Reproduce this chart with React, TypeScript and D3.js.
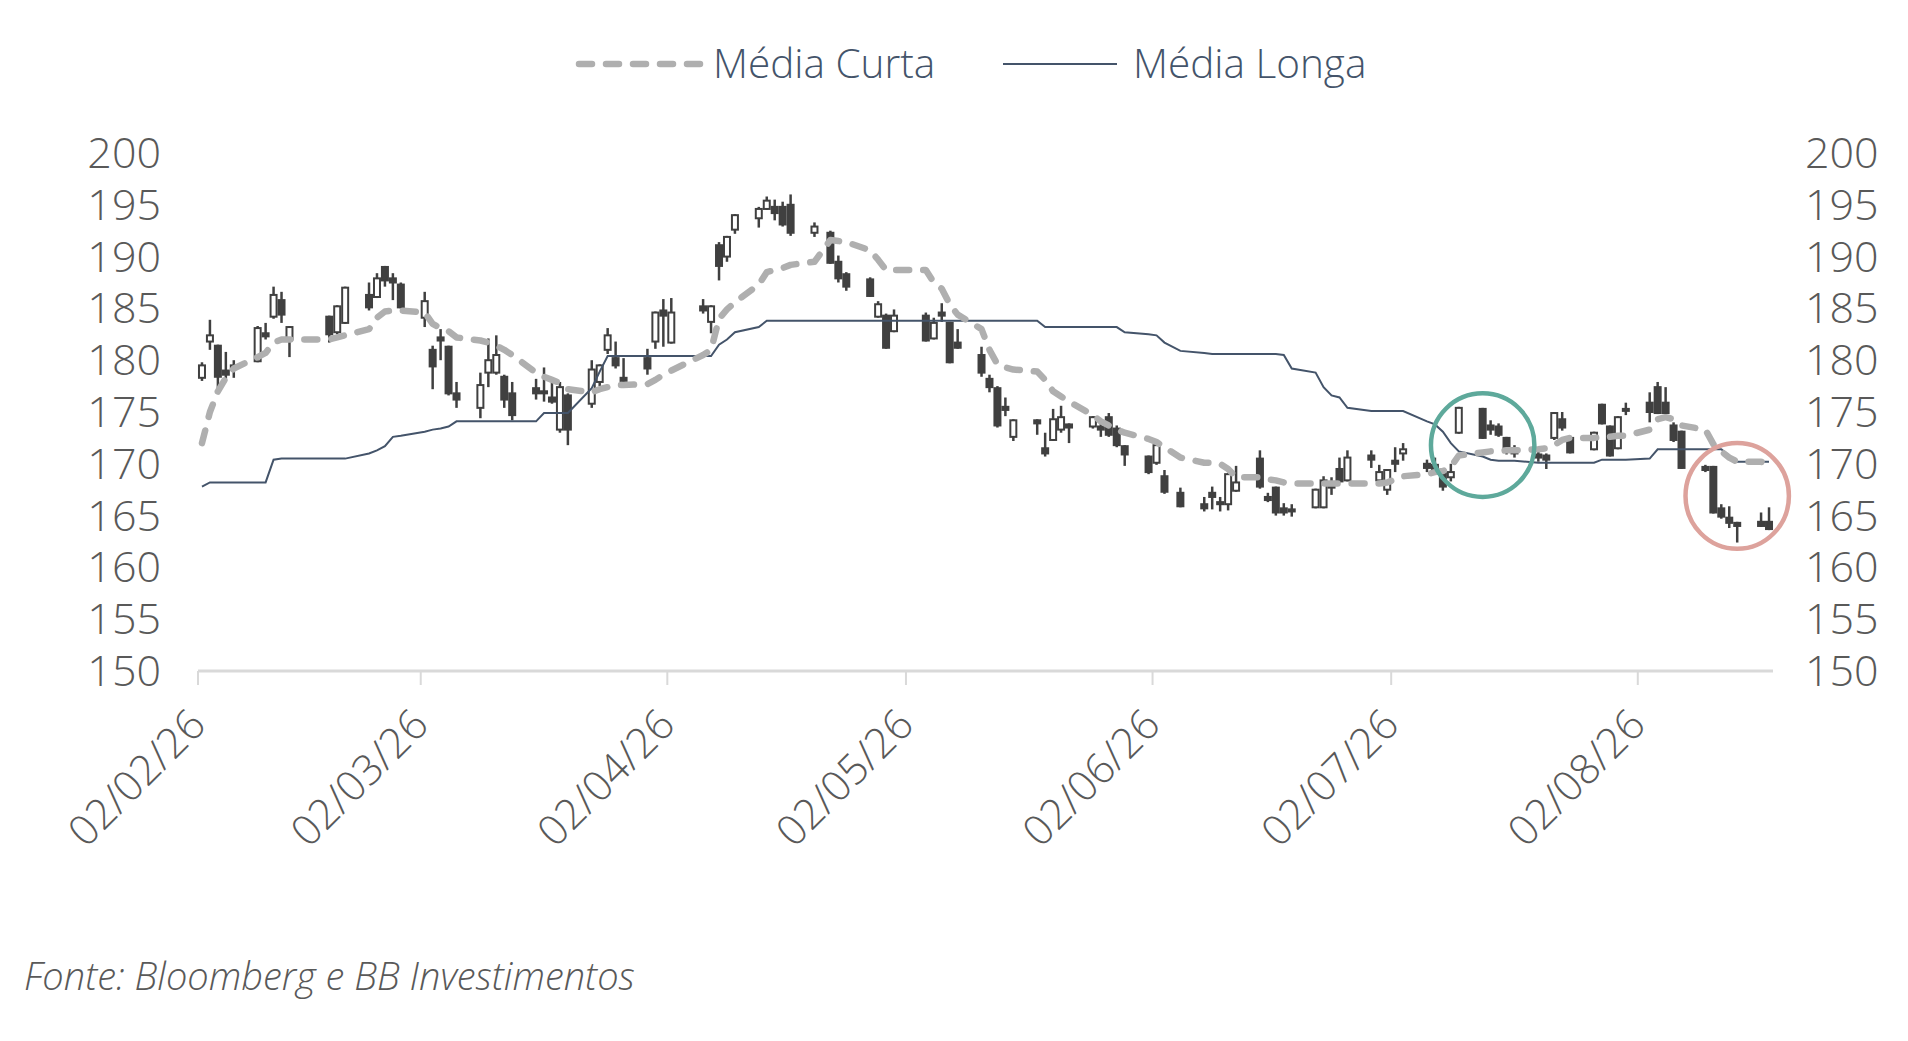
import * as d3 from "d3";

// Pregões (B3) de fev a ago/2026
const dates = [
  "2026-02-02", "2026-02-03", "2026-02-04", "2026-02-05", "2026-02-06",
  "2026-02-09", "2026-02-10", "2026-02-11", "2026-02-12", "2026-02-13",
  "2026-02-18", "2026-02-19", "2026-02-20",
  "2026-02-23", "2026-02-24", "2026-02-25", "2026-02-26", "2026-02-27",
  "2026-03-02", "2026-03-03", "2026-03-04", "2026-03-05", "2026-03-06",
  "2026-03-09", "2026-03-10", "2026-03-11", "2026-03-12", "2026-03-13",
  "2026-03-16", "2026-03-17", "2026-03-18", "2026-03-19", "2026-03-20",
  "2026-03-23", "2026-03-24", "2026-03-25", "2026-03-26", "2026-03-27",
  "2026-03-30", "2026-03-31", "2026-04-01", "2026-04-02",
  "2026-04-06", "2026-04-07", "2026-04-08", "2026-04-09", "2026-04-10",
  "2026-04-13", "2026-04-14", "2026-04-15", "2026-04-16", "2026-04-17",
  "2026-04-20", "2026-04-22", "2026-04-23", "2026-04-24",
  "2026-04-27", "2026-04-28", "2026-04-29", "2026-04-30",
  "2026-05-04", "2026-05-05", "2026-05-06", "2026-05-07", "2026-05-08",
  "2026-05-11", "2026-05-12", "2026-05-13", "2026-05-14", "2026-05-15",
  "2026-05-18", "2026-05-19", "2026-05-20", "2026-05-21", "2026-05-22",
  "2026-05-25", "2026-05-26", "2026-05-27", "2026-05-28", "2026-05-29",
  "2026-06-01", "2026-06-02", "2026-06-03", "2026-06-05",
  "2026-06-08", "2026-06-09", "2026-06-10", "2026-06-11", "2026-06-12",
  "2026-06-15", "2026-06-16", "2026-06-17", "2026-06-18", "2026-06-19",
  "2026-06-22", "2026-06-23", "2026-06-24", "2026-06-25", "2026-06-26",
  "2026-06-29", "2026-06-30", "2026-07-01", "2026-07-02", "2026-07-03",
  "2026-07-06", "2026-07-07", "2026-07-08", "2026-07-09", "2026-07-10",
  "2026-07-13", "2026-07-14", "2026-07-15", "2026-07-16", "2026-07-17",
  "2026-07-20", "2026-07-21", "2026-07-22", "2026-07-23", "2026-07-24",
  "2026-07-27", "2026-07-28", "2026-07-29", "2026-07-30", "2026-07-31",
  "2026-08-03", "2026-08-04", "2026-08-05", "2026-08-06", "2026-08-07",
  "2026-08-10", "2026-08-11", "2026-08-12", "2026-08-13", "2026-08-14",
  "2026-08-17", "2026-08-18",
];

const open = [
  178.3, 181.8, 181.4, 179.0, 179.2,
  179.9, 182.6, 184.2, 185.8, 182.0,
  184.2, 182.7, 183.6,
  186.3, 186.1, 189.0, 187.9, 187.3,
  184.1, 181.0, 182.2, 181.3, 176.8,
  175.4, 178.8, 178.8, 178.4, 176.8,
  177.3, 177.0, 176.4, 173.3, 176.6,
  175.8, 177.9, 181.0, 180.2, 178.3,
  180.2, 181.8, 184.8, 181.7,
  185.2, 183.7, 191.1, 190.0, 192.6,
  193.7, 194.6, 194.8, 194.8, 195.0,
  192.3, 192.3, 189.5, 188.3,
  187.8, 184.2, 184.3, 182.8,
  184.3, 182.1, 184.6, 183.6, 181.7,
  180.5, 178.2, 177.3, 175.5, 172.6,
  174.2, 171.5, 172.3, 173.3, 173.8,
  173.6, 173.6, 174.5, 173.4, 171.7,
  170.7, 170.1, 168.8, 167.2,
  166.1, 167.2, 166.3, 166.1, 167.4,
  170.5, 166.8, 167.7, 165.7, 165.6,
  165.8, 165.8, 168.0, 169.5, 168.4,
  170.8, 168.4, 167.5, 170.3, 171.0,
  170.0, 169.9, 169.2, 168.7, 173.0,
  175.3, 173.7, 173.6, 172.5, 171.3,
  170.9, 170.8, 172.5, 174.3, 172.5,
  171.4, 175.7, 173.6, 171.5, 175.2,
  175.9, 177.4, 175.9, 173.7, 173.1,
  169.7, 169.7, 165.7, 164.8, 164.3,
  164.4, 164.4,
];

const high = [
  179.8, 183.9, 181.5, 180.8, 180.0,
  183.3, 183.6, 187.1, 186.6, 183.3,
  184.3, 185.3, 187.1,
  187.5, 188.4, 189.1, 188.4, 187.5,
  186.6, 181.4, 183.0, 181.4, 177.9,
  178.8, 182.1, 182.4, 178.6, 177.9,
  178.2, 179.3, 177.8, 177.9, 176.8,
  180.0, 179.6, 183.1, 181.8, 180.2,
  181.1, 184.7, 185.9, 186.0,
  185.9, 185.3, 191.4, 192.0, 194.1,
  194.8, 195.8, 195.5, 195.3, 196.0,
  193.3, 192.5, 190.1, 188.5,
  188.0, 185.7, 184.5, 184.9,
  184.6, 184.1, 185.5, 183.7, 183.0,
  181.3, 178.6, 177.5, 176.4, 174.3,
  174.3, 173.0, 175.3, 175.6, 173.9,
  174.6, 174.3, 174.9, 173.7, 171.8,
  170.8, 172.0, 169.4, 167.7,
  166.8, 167.8, 166.8, 169.1, 169.8,
  171.3, 167.2, 167.8, 166.2, 166.1,
  167.6, 168.8, 168.7, 170.6, 171.3,
  171.3, 169.9, 169.5, 171.6, 172.0,
  170.4, 170.6, 169.3, 170.0, 175.5,
  175.4, 174.2, 173.9, 172.6, 171.8,
  171.4, 171.0, 175.0, 175.0, 172.7,
  173.1, 175.8, 173.7, 174.6, 175.9,
  176.9, 177.9, 177.4, 174.0, 173.2,
  169.9, 169.8, 166.1, 165.9, 164.4,
  165.3, 165.8,
];

const low = [
  178.0, 181.0, 177.3, 178.0, 178.3,
  179.8, 182.0, 184.0, 183.6, 180.3,
  181.7, 182.5, 183.5,
  184.8, 186.0, 187.1, 185.8, 185.0,
  183.2, 177.2, 180.0, 176.6, 175.4,
  174.4, 177.4, 178.6, 175.4, 174.2,
  176.2, 176.0, 175.8, 173.0, 171.8,
  175.4, 177.5, 180.6, 179.2, 177.9,
  178.6, 181.1, 181.3, 181.6,
  184.5, 182.6, 187.7, 189.5, 192.2,
  192.8, 194.5, 193.5, 192.9, 192.0,
  191.9, 189.3, 187.5, 186.7,
  186.1, 184.1, 181.1, 182.7,
  181.8, 182.0, 183.7, 179.7, 181.1,
  178.4, 176.9, 173.5, 174.6, 172.2,
  172.8, 170.7, 172.2, 173.0, 172.0,
  173.4, 172.6, 172.6, 171.6, 169.8,
  169.0, 169.9, 167.1, 165.8,
  165.4, 165.6, 165.4, 165.5, 167.3,
  167.6, 166.3, 165.0, 165.0, 164.9,
  165.7, 165.7, 167.0, 168.2, 168.3,
  169.6, 168.2, 167.0, 169.2, 170.3,
  169.2, 169.0, 167.4, 168.3, 172.9,
  172.4, 172.8, 172.6, 170.9, 170.6,
  170.2, 169.5, 172.3, 173.2, 171.0,
  171.3, 173.8, 170.7, 171.4, 174.7,
  174.0, 174.8, 174.8, 172.1, 169.5,
  169.2, 165.2, 164.7, 163.8, 162.4,
  163.9, 163.6,
];

const close = [
  179.5, 182.4, 178.4, 178.6, 179.5,
  183.1, 182.3, 186.3, 184.4, 183.2,
  182.5, 185.2, 187.0,
  185.1, 187.9, 187.7, 187.5, 185.1,
  185.7, 179.4, 181.9, 176.8, 176.2,
  177.6, 180.0, 180.5, 176.2, 174.7,
  176.8, 176.8, 176.0, 177.4, 173.3,
  179.1, 179.5, 182.4, 179.5, 178.0,
  179.2, 184.6, 184.3, 184.6,
  184.8, 185.2, 189.1, 191.9, 194.0,
  194.6, 195.4, 194.2, 193.1, 192.3,
  192.9, 189.4, 187.9, 187.1,
  186.2, 185.4, 181.2, 184.3,
  181.9, 183.6, 184.3, 179.8, 181.2,
  178.8, 177.4, 173.7, 175.2, 174.2,
  173.9, 171.0, 174.3, 174.5, 173.5,
  174.5, 173.3, 172.8, 171.8, 170.9,
  169.2, 171.8, 167.3, 165.9,
  165.7, 166.8, 166.1, 169.0, 168.2,
  167.8, 166.5, 165.3, 165.3, 165.4,
  167.5, 168.4, 167.7, 168.3, 170.6,
  170.4, 169.2, 169.4, 170.0, 171.4,
  169.6, 169.1, 167.8, 169.2, 175.4,
  172.5, 173.3, 172.8, 171.5, 171.0,
  170.6, 170.4, 174.9, 173.5, 171.1,
  173.0, 173.9, 170.8, 174.5, 175.3,
  175.0, 174.9, 174.9, 172.3, 169.6,
  169.4, 165.3, 164.9, 164.3, 164.0,
  164.0, 163.7,
];

const mediaCurta = [
  172.0, 175.0, 177.0, 178.3, 179.2,
  180.3, 180.7, 181.7, 182.0, 182.0,
  182.0, 182.2, 182.4,
  183.0, 184.1, 184.7, 184.8, 184.8,
  184.6, 183.5, 183.1, 182.8, 182.2,
  181.9, 181.7, 181.4, 181.0, 180.5,
  178.8, 178.4, 178.1, 177.8, 177.2,
  176.9, 177.2, 177.4, 177.6, 177.6,
  177.7, 178.1, 178.6, 179.0,
  180.5, 181.0, 184.0, 184.9, 185.6,
  187.3, 188.5, 188.7, 188.9, 189.2,
  189.5, 191.6, 191.5, 191.4,
  190.6, 189.7, 188.7, 188.7,
  188.7, 187.5, 186.9, 185.4, 184.4,
  183.0, 181.0, 179.6, 179.3, 179.1,
  178.9, 178.1, 177.0, 176.5, 176.0,
  174.7, 174.1, 173.7, 173.3, 173.0,
  172.4, 172.1, 171.6, 170.6,
  170.1, 170.1, 170.0, 169.5, 168.7,
  168.7, 168.5, 168.4, 168.2, 168.1,
  168.1, 168.1, 168.1, 168.1, 168.1,
  168.1, 168.1, 168.2, 168.5, 168.8,
  169.0, 169.2, 169.3, 169.7, 170.8,
  171.1, 171.2, 171.2, 171.3, 171.3,
  171.4, 171.5, 171.8, 172.3, 172.5,
  172.5, 172.6, 172.6, 172.7, 172.7,
  173.3, 174.3, 174.5, 174.3, 173.7,
  173.3, 171.9, 171.2, 170.6, 170.2,
  170.2, 169.9,
];

const mediaLonga = [
  167.8, 168.2, 168.2, 168.2, 168.2,
  168.2, 168.2, 170.4, 170.5, 170.5,
  170.5, 170.5, 170.5,
  171.0, 171.3, 171.7, 172.6, 172.7,
  173.1, 173.3, 173.4, 173.6, 174.1,
  174.1, 174.1, 174.1, 174.1, 174.1,
  174.1, 174.9, 174.9, 174.9, 174.9,
  177.3, 178.9, 180.4, 180.4, 180.4,
  180.4, 180.4, 180.4, 180.4,
  180.4, 180.4, 181.5, 182.0, 182.7,
  183.2, 183.8, 183.8, 183.8, 183.8,
  183.8, 183.8, 183.8, 183.8,
  183.8, 183.8, 183.8, 183.8,
  183.8, 183.8, 183.8, 183.8, 183.8,
  183.8, 183.8, 183.8, 183.8, 183.8,
  183.8, 183.2, 183.2, 183.2, 183.2,
  183.2, 183.2, 183.2, 183.2, 182.7,
  182.5, 182.4, 181.7, 180.9,
  180.7, 180.6, 180.6, 180.6, 180.6,
  180.6, 180.6, 180.6, 180.5, 179.2,
  178.8, 177.4, 176.6, 176.4, 175.4,
  175.1, 175.1, 175.1, 175.1, 175.1,
  174.1, 173.8, 173.1, 172.0, 171.2,
  170.7, 170.4, 170.3, 170.3, 170.3,
  170.1, 170.1, 170.1, 170.1, 170.1,
  170.1, 170.4, 170.4, 170.4, 170.4,
  170.5, 171.4, 171.4, 171.4, 171.4,
  171.4, 171.4, 171.4, 170.8, 170.2,
  170.2, 170.2,
];

const yTicks = [150, 155, 160, 165, 170, 175, 180, 185, 190, 195, 200];
const xTicks = ["2026-02-02", "2026-03-02", "2026-04-02", "2026-05-02", "2026-06-02", "2026-07-02", "2026-08-02"];

// regiões destacadas no gráfico (datas e faixa de preço)
const destaqueInicio = ["2026-07-07", "2026-08-08"];
const destaqueFim = ["2026-07-20", "2026-08-21"];
const destaqueMin = [166.8, 161.8];
const destaqueMax = [176.8, 172.0];
const destaqueCor = ["#5ea99b", "#dda29c"];

const font = "'Open Sans', 'Noto Sans', sans-serif";
const candleColor = "#404040";
const curtaColor = "#afafaf";
const longaColor = "#44546a";
const textColor = "#595959";

export default function App() {
  const width = 1908;
  const height = 1041;
  const parse = d3.timeParse("%Y-%m-%d");
  const days = dates.map((d) => parse(d) as Date);

  const x = d3
    .scaleTime()
    .domain([parse("2026-02-02") as Date, parse("2026-08-19") as Date])
    .range([198, 1773]);
  const y = d3.scaleLinear().domain([150, 200]).range([671, 153]);

  // each trading day sits in the middle of its date slot
  const half = (x(d3.timeDay.offset(days[0], 1)) - x(days[0])) / 2;
  const cx = (i: number) => x(days[i]) + half;

  const line = d3
    .line<number>()
    .x((_, i) => cx(i))
    .y((v) => y(v));

  const fmt = d3.timeFormat("%d/%m/%y");
  const bodyW = 6;

  return (
    <svg
      width={width}
      height={height}
      style={{ position: "absolute", left: 0, top: 0, background: "#fff" }}
      fontFamily={font}
    >
      {/* Legend */}
      <line x1={579} x2={700} y1={64} y2={64} stroke={curtaColor} strokeWidth={6.5} strokeDasharray="13 14" strokeLinecap="round" />
      <text x={713} y={78} fontSize={40.5} fontWeight={300} fill={longaColor}>Média Curta</text>
      <line x1={1003} x2={1117} y1={64} y2={64} stroke={longaColor} strokeWidth={2} />
      <text x={1133} y={78} fontSize={40.5} fontWeight={300} fill={longaColor}>Média Longa</text>

      {/* Y labels both sides */}
      {yTicks.map((t) => (
        <g key={t} fontSize={43} fontWeight={300} fill={textColor}>
          <text x={161} y={y(t) + 15} textAnchor="end">{t}</text>
          <text x={1805} y={y(t) + 15}>{t}</text>
        </g>
      ))}

      {/* X axis */}
      <line x1={x.range()[0]} x2={x.range()[1]} y1={y(150)} y2={y(150)} stroke="#d9d9d9" strokeWidth={3} />
      {xTicks.map((t) => {
        const d = parse(t) as Date;
        const tx = x(d);
        return (
          <g key={t}>
            <line x1={tx} x2={tx} y1={y(150)} y2={y(150) + 14} stroke="#d9d9d9" strokeWidth={2} />
            <text
              transform={`translate(${tx + 10},${y(150) + 56}) rotate(-45)`}
              textAnchor="end"
              fontSize={42}
              fontWeight={300}
              fill={textColor}
            >
              {fmt(d)}
            </text>
          </g>
        );
      })}

      {/* Candles */}
      {dates.map((_, i) => {
        const up = close[i] >= open[i];
        const top = y(Math.max(open[i], close[i]));
        const bot = y(Math.min(open[i], close[i]));
        return (
          <g key={i}>
            <line x1={cx(i)} x2={cx(i)} y1={y(high[i])} y2={y(low[i])} stroke={candleColor} strokeWidth={2.5} />
            <rect
              x={cx(i) - bodyW / 2}
              y={top}
              width={bodyW}
              height={Math.max(bot - top, 2)}
              fill={up ? "#ffffff" : candleColor}
              stroke={candleColor}
              strokeWidth={2}
            />
          </g>
        );
      })}

      {/* Moving averages */}
      <path d={line(mediaLonga) ?? ""} fill="none" stroke={longaColor} strokeWidth={2} />
      <path
        d={line(mediaCurta) ?? ""}
        fill="none"
        stroke={curtaColor}
        strokeWidth={6.5}
        strokeDasharray="13 14"
        strokeLinecap="round"
        strokeLinejoin="round"
      />

      {/* Highlights */}
      {destaqueInicio.map((s, i) => {
        const x0 = x(parse(s) as Date);
        const x1 = x(parse(destaqueFim[i]) as Date);
        const y0 = y(destaqueMax[i]);
        const y1 = y(destaqueMin[i]);
        return (
          <ellipse
            key={s}
            cx={(x0 + x1) / 2}
            cy={(y0 + y1) / 2}
            rx={(x1 - x0) / 2}
            ry={(y1 - y0) / 2}
            fill="none"
            stroke={destaqueCor[i]}
            strokeWidth={4.5}
          />
        );
      })}

      <text x={24} y={990} fontSize={38} fontWeight={300} fontStyle="italic" fill={textColor}>
        Fonte: Bloomberg e BB Investimentos
      </text>
    </svg>
  );
}
